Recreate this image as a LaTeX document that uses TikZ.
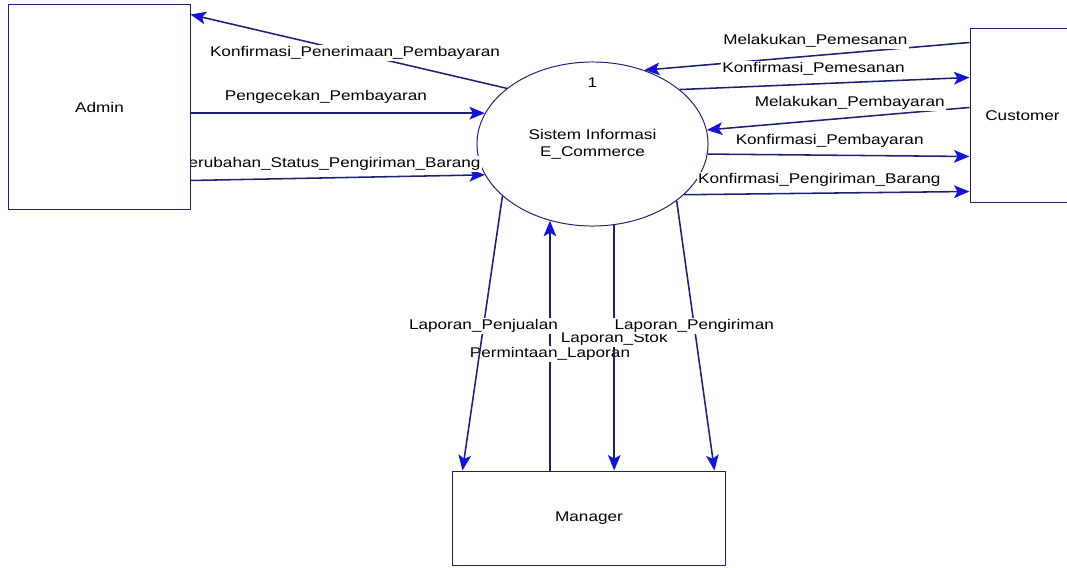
\documentclass[tikz,border=0pt]{standalone}
\usepackage{fontspec}
\setmainfont{Liberation Sans}[FakeStretch=1.22]
\usepackage{tikz}
\usetikzlibrary{positioning,arrows.meta,calc,shapes.geometric}
\usepackage{xcolor}
\definecolor{dfdline}{RGB}{32,32,115}
\definecolor{dfdtip}{RGB}{20,20,210}
\pgfdeclarelayer{front}
\pgfsetlayers{main,front}

\begin{document}
\begin{tikzpicture}[x=0.025cm,y=-0.025cm,
  >={Stealth[length=11pt,width=9pt,inset=2.5pt,color=dfdtip,fill=dfdtip]},
  entity/.style={draw=dfdline,line width=0.7pt,fill=white,inner sep=0pt},
  flow/.style={->,draw=dfdline,line width=1.1pt},
  lbl/.style={fill=white,inner sep=1pt}]
\useasboundingbox (0,0) rectangle (1067,567);
\begin{pgfonlayer}{front}
\node[entity,minimum width=4.525cm,minimum height=5.1cm] (admin) at (99.5,107) {Admin};
\end{pgfonlayer}
\node[entity,minimum width=2.625cm,minimum height=4.325cm] (cust) at (1022.5,115.5) {Customer};
\node[entity,minimum width=6.8cm,minimum height=2.35cm] (mgr) at (589,518) {Manager};
\node[entity,ellipse,minimum width=5.775cm,minimum height=4.1cm,align=center] (sys) at (592.5,144) {Sistem Informasi\\E\_Commerce};
\node (num) at ($(sys.center)+(0,-61)$) {1};
% admin
\draw[flow] (sys.147) -- ($(admin.north east)+(0,10)$) node[lbl,pos=0.48] {Konfirmasi\_Penerimaan\_Pembayaran};
\draw[flow] (admin.east |- sys.164) -- (sys.164) node[lbl,pos=0.46,yshift=11.4pt] {Pengecekan\_Pembayaran};
\draw[flow] ($(admin.north east)+(0,176)$) -- (sys.196) node[lbl,pos=0.47,yshift=9.7pt] {Perubahan\_Status\_Pengiriman\_Barang};
% customer
\draw[flow] ($(cust.north west)+(0,14)$) -- (sys.55) node[lbl,pos=0.474,yshift=10.5pt] {Melakukan\_Pemesanan};
\draw[flow] (sys.32) -- ($(cust.north west)+(0,49)$) node[lbl,pos=0.462,yshift=11pt] {Konfirmasi\_Pemesanan};
\draw[flow] ($(cust.north west)+(0,79)$) -- (sys.7) node[lbl,pos=0.456,yshift=10.7pt] {Melakukan\_Pembayaran};
\draw[flow] (sys.355) -- ($(cust.north west)+(0,128)$) node[lbl,pos=0.466,yshift=10pt] {Konfirmasi\_Pembayaran};
\draw[flow] (sys.331) -- ($(cust.north west)+(0,163)$) node[lbl,pos=0.474,yshift=9.7pt] {Konfirmasi\_Pengiriman\_Barang};
% manager
\draw[flow] (sys.241 |- mgr.north) -- (sys.241) node[lbl,pos=0.466] {Permintaan\_Laporan};
\draw[flow] (sys.285) -- (sys.285 |- mgr.north) node[lbl,pos=0.465] {Laporan\_Stok};
\draw[flow] (sys.210) -- ($(mgr.north west)+(10,0)$) node[lbl,pos=0.474] {Laporan\_Penjualan};
\draw[flow] (sys.326) -- ($(mgr.north west)+(262,0)$) node[lbl,pos=0.465] {Laporan\_Pengiriman};
\end{tikzpicture}
\end{document}
